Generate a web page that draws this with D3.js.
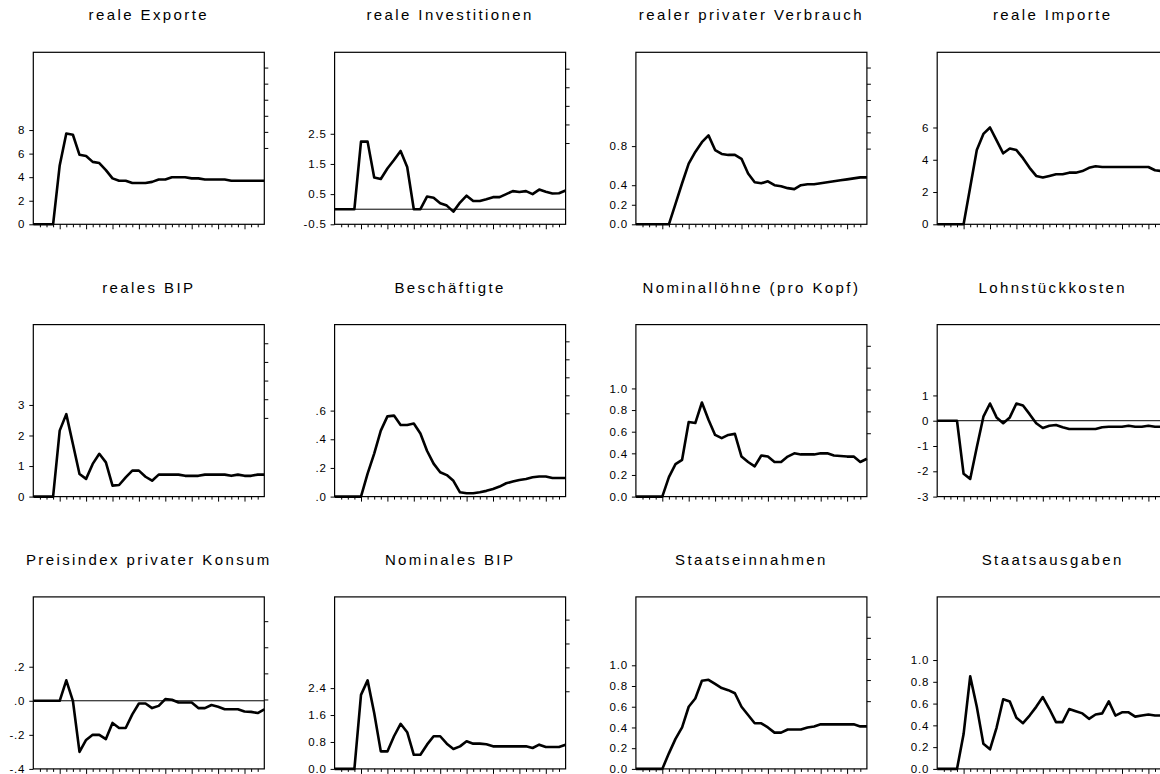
<!DOCTYPE html>
<html><head><meta charset="utf-8">
<script src="https://cdn.jsdelivr.net/npm/d3@7"></script>
<style>
html,body{margin:0;padding:0;background:#fff;}
svg{display:block;}
.title{font-family:"Liberation Sans",Arial,sans-serif;font-size:15px;letter-spacing:2.4px;fill:#000;}
.tick text{font-family:"Liberation Sans",Arial,sans-serif;font-size:11.5px;letter-spacing:0.8px;fill:#000;}
</style></head>
<body>
<svg id="chart" width="1160" height="774"></svg>
<script>
// ---- data (36 periods each) ----
const periods = d3.range(36);
const titles = ["reale Exporte","reale Investitionen","realer privater Verbrauch","reale Importe",
  "reales BIP","Beschäftigte","Nominallöhne (pro Kopf)","Lohnstückkosten",
  "Preisindex privater Konsum","Nominales BIP","Staatseinnahmen","Staatsausgaben"];

const exporte = [0,0,0,0,5.0,7.7,7.6,5.9,5.8,5.3,5.2,4.6,3.9,3.7,3.7,3.5,3.5,3.5,3.6,3.8,3.8,4.0,4.0,4.0,3.9,3.9,3.8,3.8,3.8,3.8,3.7,3.7,3.7,3.7,3.7,3.7];
const investitionen = [0,0,0,0,2.24,2.24,1.05,1.0,1.35,1.63,1.93,1.4,0.0,0.0,0.42,0.38,0.2,0.12,-0.08,0.22,0.45,0.27,0.27,0.33,0.4,0.4,0.5,0.6,0.57,0.6,0.5,0.65,0.58,0.52,0.53,0.62];
const verbrauch = [0,0,0,0,0,0,0.21,0.42,0.62,0.74,0.84,0.91,0.76,0.72,0.71,0.71,0.67,0.52,0.43,0.42,0.44,0.40,0.39,0.37,0.36,0.40,0.41,0.41,0.42,0.43,0.44,0.45,0.46,0.47,0.48,0.48];
const importe = [0,0,0,0,0,2.3,4.6,5.6,6.0,5.2,4.4,4.7,4.6,4.1,3.5,3.0,2.9,3.0,3.1,3.1,3.2,3.2,3.3,3.5,3.6,3.55,3.55,3.55,3.55,3.55,3.55,3.55,3.55,3.35,3.3,3.3];
const bip = [0,0,0,0,2.16,2.7,1.72,0.74,0.58,1.07,1.4,1.12,0.36,0.38,0.63,0.85,0.85,0.65,0.52,0.72,0.72,0.72,0.72,0.68,0.68,0.68,0.72,0.72,0.72,0.72,0.68,0.72,0.68,0.68,0.72,0.72];
const beschaeftigte = [0,0,0,0,0,0.16,0.30,0.46,0.56,0.565,0.50,0.50,0.51,0.44,0.32,0.23,0.17,0.15,0.11,0.03,0.023,0.023,0.03,0.04,0.053,0.07,0.093,0.105,0.116,0.123,0.135,0.14,0.14,0.13,0.13,0.13];
const loehne = [0,0,0,0,0,0.18,0.30,0.34,0.69,0.68,0.87,0.71,0.57,0.54,0.57,0.58,0.37,0.32,0.28,0.38,0.37,0.32,0.32,0.37,0.40,0.39,0.39,0.39,0.40,0.40,0.38,0.375,0.37,0.37,0.32,0.35];
const lohnstueck = [0,0,0,0,-2.1,-2.3,-1.05,0.16,0.68,0.13,-0.1,0.13,0.68,0.6,0.26,-0.1,-0.29,-0.2,-0.17,-0.26,-0.33,-0.33,-0.33,-0.33,-0.33,-0.26,-0.24,-0.24,-0.24,-0.2,-0.24,-0.24,-0.2,-0.24,-0.24,-0.24];
const preis = [0,0,0,0,0,0.12,0.0,-0.3,-0.23,-0.2,-0.2,-0.225,-0.13,-0.16,-0.16,-0.08,-0.016,-0.016,-0.043,-0.03,0.01,0.006,-0.01,-0.01,-0.01,-0.043,-0.043,-0.025,-0.035,-0.05,-0.05,-0.05,-0.063,-0.065,-0.072,-0.05];
const nomBIP = [0,0,0,0,2.2,2.63,1.66,0.52,0.52,0.97,1.34,1.09,0.42,0.42,0.72,0.97,0.97,0.75,0.59,0.67,0.82,0.75,0.75,0.73,0.67,0.67,0.67,0.67,0.67,0.67,0.62,0.72,0.65,0.65,0.65,0.72];
const einnahmen = [0,0,0,0,0,0.15,0.29,0.40,0.60,0.68,0.85,0.86,0.82,0.78,0.76,0.73,0.60,0.52,0.44,0.44,0.40,0.35,0.35,0.38,0.38,0.38,0.40,0.41,0.43,0.43,0.43,0.43,0.43,0.43,0.41,0.41];
const ausgaben = [0,0,0,0,0.32,0.85,0.57,0.23,0.18,0.38,0.64,0.62,0.47,0.42,0.49,0.57,0.66,0.55,0.43,0.43,0.55,0.53,0.51,0.46,0.50,0.51,0.62,0.49,0.52,0.52,0.48,0.49,0.50,0.49,0.49,0.49];
const series = [exporte,investitionen,verbrauch,importe,bip,beschaeftigte,loehne,lohnstueck,preis,nomBIP,einnahmen,ausgaben];

// left axis: domain, tick values, tick labels
const yDomains = [[0,14.6],[-0.5,5.2],[0,1.76],[0,10.66],[0,5.63],[0,1.2],[0,1.59],[-3,3.8],[-0.4,0.61],[0,5.11],[0,1.66],[0,1.58]];
const yTicks = [[0,2,4,6,8],[-0.5,0.5,1.5,2.5],[0,0.2,0.4,0.8],[0,2,4,6],[0,1,2,3],[0,0.2,0.4,0.6],
  [0,0.2,0.4,0.6,0.8,1.0],[-3,-2,-1,0,1],[-0.4,-0.2,0,0.2],[0,0.8,1.6,2.4],[0,0.2,0.4,0.6,0.8,1.0],[0,0.2,0.4,0.6,0.8,1.0]];
const yLabels = [["0","2","4","6","8"],["-0.5","0.5","1.5","2.5"],["0.0","0.2","0.4","0.8"],["0","2","4","6"],["0","1","2","3"],
  [".0",".2",".4",".6"],["0.0","0.2","0.4","0.6","0.8","1.0"],["-3","-2","-1","0","1"],["-.4","-.2",".0",".2"],
  ["0.0","0.8","1.6","2.4"],["0.0","0.2","0.4","0.6","0.8","1.0"],["0.0","0.2","0.4","0.6","0.8","1.0"]];
// right axis (unlabelled): domain and tick count
const rDomains = [[-4.75,5.95],[-4.37,4.88],[-4.67,5.94],[-4.75,5.95],[-4.22,5.0],[-4.63,4.93],[-2.9,4.97],[-2.9,4.97],[-2.66,3.93],[-3.25,3.95],[-3.21,4.94],[-3.21,4.94]];
const rCounts = [6,5,6,6,5,5,5,5,4,4,5,5];
const zeroLine = [false,true,false,false,false,false,false,true,true,false,false,false];

// ---- layout ----
const svg = d3.select("#chart");
svg.append("rect").attr("width",1160).attr("height",774).attr("fill","#fff");
const W = 231, H = 172;
const colX = c => 33.3 + c*301.3;
const rowY = r => 52.3 + r*272.3;

series.forEach((vals, k) => {
  const c = k % 4, r = Math.floor(k/4);
  const g = svg.append("g").attr("transform", `translate(${colX(c)},${rowY(r)})`);
  const x = d3.scaleLinear().domain([0,35]).range([0,W]);
  const y = d3.scaleLinear().domain(yDomains[k]).range([H,0]);
  const yr = d3.scaleLinear().domain(rDomains[k]).range([H,0]);

  // title
  g.append("text").attr("class","title").attr("x",W/2).attr("y",-32)
    .attr("text-anchor","middle").text(titles[k]);

  // left axis
  const la = g.append("g").call(d3.axisLeft(y).tickValues(yTicks[k]).tickSize(4).tickPadding(4)
      .tickFormat((d,i)=>yLabels[k][i]));
  la.select(".domain").remove();
  la.selectAll("line").attr("stroke","#000");

  // right axis ticks
  const ra = g.append("g").attr("transform",`translate(${W},0)`)
    .call(d3.axisRight(yr).tickValues(d3.range(rCounts[k])).tickSize(4).tickFormat(""));
  ra.select(".domain").remove();
  ra.selectAll("line").attr("stroke","#000");

  // bottom ticks
  const ba = g.append("g").attr("transform",`translate(0,${H})`)
    .call(d3.axisBottom(x).tickValues(periods.slice(1,35)).tickSize(3).tickFormat(""));
  ba.select(".domain").remove();
  ba.selectAll(".tick line").attr("stroke","#000").attr("y2",(d)=> d%4===0 ? 5 : 3);

  // zero line
  if (zeroLine[k]) {
    g.append("line").attr("x1",0).attr("x2",W).attr("y1",y(0)).attr("y2",y(0))
      .attr("stroke","#000").attr("stroke-width",1);
  }

  // data line
  g.append("path").datum(vals)
    .attr("fill","none").attr("stroke","#000").attr("stroke-width",2.6)
    .attr("stroke-linejoin","round")
    .attr("d", d3.line().x((d,i)=>x(periods[i])).y(d=>y(d)));

  // frame
  g.append("rect").attr("x",0).attr("y",0).attr("width",W).attr("height",H)
    .attr("fill","none").attr("stroke","#000").attr("stroke-width",1.2);
});
</script>
</body></html>
